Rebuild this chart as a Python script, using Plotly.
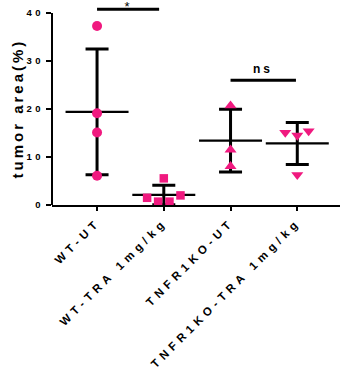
import numpy as np
import plotly.graph_objects as go

categories = ["WT-UT", "WT-TRA 1mg/kg", "TNFR1KO-UT", "TNFR1KO-TRA 1mg/kg"]
wt_ut = [37.3, 19.1, 15.1, 6.1]
wt_ut_jit = [0, 0, 0, 0]
wt_tra = [5.55, 1.5, 0.7, 0.7, 2.0]
wt_tra_jit = [0, -0.25, -0.085, 0.085, 0.25]
ko_ut = [20.7, 11.5, 8.05]
ko_ut_jit = [0, 0, 0]
ko_tra = [15.1, 14.5, 15.4, 6.3]
ko_tra_jit = [-0.18, 0, 0.17, 0]
y_ticks = [0, 10, 20, 30, 40]
y_title = "tumor area(%)"

groups = [wt_ut, wt_tra, ko_ut, ko_tra]
jits = [wt_ut_jit, wt_tra_jit, ko_ut_jit, ko_tra_jit]
symbols = ["circle", "square", "triangle-up", "triangle-down"]
sizes = [10, 8.5, 10.5, 10.5]
pink = "#F0197F"

fig = go.Figure()

means = [float(np.mean(g)) for g in groups]
sds = [float(np.std(g, ddof=1)) for g in groups]

fig.add_trace(go.Scatter(
    x=list(range(4)), y=means, mode="markers",
    marker=dict(symbol="line-ew", size=45, color="black",
                line=dict(width=2.2, color="black")),
    error_y=dict(type="data", array=sds, visible=True, color="black",
                 thickness=3, width=11.5),
    cliponaxis=False, showlegend=False, hoverinfo="skip"))

for i, (g, j) in enumerate(zip(groups, jits)):
    fig.add_trace(go.Scatter(
        x=[i + d for d in j], y=g, mode="markers",
        marker=dict(symbol=symbols[i], size=sizes[i], color=pink,
                    line=dict(width=0)),
        cliponaxis=False, showlegend=False))

# significance bars
fig.add_trace(go.Scatter(x=[0, 0.93], y=[40.8, 40.8], mode="lines",
                         line=dict(color="black", width=3),
                         cliponaxis=False, showlegend=False))
fig.add_trace(go.Scatter(x=[2, 2.98], y=[26, 26], mode="lines",
                         line=dict(color="black", width=3),
                         cliponaxis=False, showlegend=False))
fig.add_annotation(x=0.47, xref="x", y=1, yref="paper", text="*", showarrow=False,
                   yanchor="top", yshift=3, font=dict(size=13, color="black"))
fig.add_annotation(x=2.49, y=26, text="ns", showarrow=False, yanchor="bottom",
                   yshift=2, font=dict(size=12, color="black", weight="bold"))
# y axis title, centred on the drawn 0-40 axis line
fig.add_annotation(x=0, xref="paper", y=20, yref="y", text=y_title, textangle=-90,
                   showarrow=False, xanchor="center", yanchor="middle", xshift=-35,
                   font=dict(size=15, color="black", weight="bold"))

# y axis line 0..40
fig.add_shape(type="line", xref="paper", yref="y", x0=0, x1=0, y0=0, y1=40,
              line=dict(color="black", width=2))

fig.update_layout(
    width=340, height=375,
    margin=dict(l=52, r=0, t=0, b=170),
    plot_bgcolor="white", paper_bgcolor="white",
    font=dict(family="Liberation Sans, Arial", color="black"),
    xaxis=dict(range=[-0.675, 3.64], tickmode="array", tickvals=list(range(4)),
               ticktext=categories, tickangle=-45, ticks="outside", ticklen=4,
               tickwidth=1.5, tickcolor="black", showline=True, linecolor="black",
               linewidth=2, showgrid=False, zeroline=False,
               tickfont=dict(size=11.5, weight="bold", color="black")),
    yaxis=dict(range=[0, 42.71], tickvals=y_ticks, ticks="outside", ticklen=5,
               tickwidth=2, tickcolor="black", showline=False, showgrid=False,
               zeroline=False, tickfont=dict(size=9.5, weight="bold", color="black")),
)

css = ("body{margin:0}"
       ".xtick text{letter-spacing:4.5px}"
       ".ytick text{letter-spacing:3.5px}"
       ".annotation-text{letter-spacing:3px}")
post = ("var s=document.createElement('style');s.textContent='" + css +
        "';document.head.appendChild(s);")

fig.write_html("out.html", post_script=post, config={"displayModeBar": False})
